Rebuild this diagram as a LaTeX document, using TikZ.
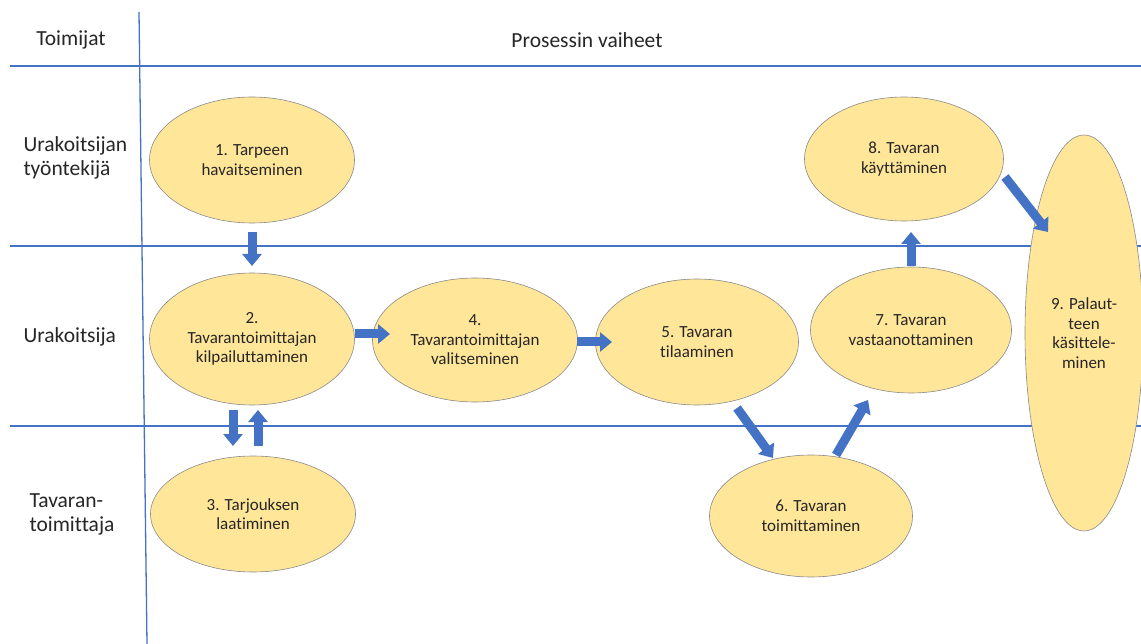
\documentclass[tikz,border=0pt]{standalone}
\usepackage{fontspec}
\setmainfont{Carlito}[Ligatures={NoCommon}]
\usetikzlibrary{shapes.geometric,arrows.meta,calc}
\definecolor{lane}{HTML}{4472C4}
\definecolor{stepfill}{HTML}{FFE699}
\definecolor{stepedge}{HTML}{8A8A8A}
\definecolor{flow}{HTML}{4472C4}
\tikzset{
  stage/.style={ellipse, draw=stepedge, line width=0.6pt, fill=stepfill,
    inner sep=0pt, align=center, font=\fontsize{17}{19.5}\selectfont,
    text=black!85},
  laneline/.style={draw=lane, line width=1.3pt},
  head/.style={font=\fontsize{21.5}{24}\selectfont, text=black!85},
  flowarrow/.style={draw=flow, line width=9pt,
    -{Triangle[length=12pt,width=19pt]}},
}
\begin{document}
\begin{tikzpicture}[x=1pt,y=-1pt]
\useasboundingbox (0,0) rectangle (1141,644);

% swimlane grid
\coordinate (h1a) at (10,66);   \coordinate (h1b) at (1141,66);
\coordinate (h2a) at (10,246);  \coordinate (h2b) at (1141,246);
\coordinate (h3a) at (10,426);  \coordinate (h3b) at (1141,426);
\coordinate (vt) at (139,12);   \coordinate (vb) at (147,644);
\draw[laneline] (h1a) -- (h1b);
\draw[laneline] (h2a) -- (h2b);
\draw[laneline] (h3a) -- (h3b);
\draw[laneline] (vt) -- (vb);

% headings and lane names
\node[head] (hActors) at (71,40) {Toimijat};
\node[head] (hSteps) at (587,40) {Prosessin vaiheet};
\node[head, align=left, anchor=west] (lane1) at (20,158) {Urakoitsijan\\työntekijä};
\node[head, anchor=west] (lane2) at (20,337) {Urakoitsija};
\node[head, align=left, anchor=west] (lane3) at (26,514) {Tavaran-\\toimittaja};

% process steps
\node[stage, minimum width=205pt, minimum height=126pt] (s1) at (252,160) {1. Tarpeen\\havaitseminen};
\node[stage, minimum width=205pt, minimum height=132pt] (s2) at (252,339) {2.\\Tavarantoimittajan\\kilpailuttaminen};
\node[stage, minimum width=205pt, minimum height=116pt] (s3) at (253,514) {3. Tarjouksen\\laatiminen};
\node[stage, minimum width=205pt, minimum height=124pt] (s4) at (475,340) {4.\\Tavarantoimittajan\\valitseminen};
\node[stage, minimum width=203pt, minimum height=126pt] (s5) at (697,342) {5. Tavaran\\tilaaminen};
\node[stage, minimum width=203pt, minimum height=122pt] (s6) at (811,516) {6. Tavaran\\toimittaminen};
\node[stage, minimum width=201pt, minimum height=126pt] (s7) at (911,330) {7. Tavaran\\vastaanottaminen};
\node[stage, minimum width=199pt, minimum height=124pt] (s8) at (904,159) {8. Tavaran\\käyttäminen};
\node[stage, minimum width=118pt, minimum height=396pt] (s9) at (1084,333) {9. Palaut-\\teen\\käsittele-\\minen};

% flow between steps
\draw[flowarrow] ($(s1.center)+(0,72)$) -- ($(s2.center)+(0,-73)$);
\draw[flowarrow] ($(s2.center)+(103,-5)$) -- ($(s4.center)+(-85,-6)$);
\draw[flowarrow] ($(s2.center)+(-19,71)$) -- ($(s3.center)+(-20,-68)$);
\draw[flowarrow] ($(s3.center)+(5,-68)$) -- ($(s2.center)+(6,71)$);
\draw[flowarrow] ($(s4.center)+(102,2)$) -- ($(s5.center)+(-85,0)$);
\draw[flowarrow] ($(s5.center)+(40,66)$) -- ($(s6.center)+(-38,-58)$);
\draw[flowarrow] ($(s6.center)+(25,-61)$) -- ($(s7.center)+(-43,70)$);
\draw[flowarrow] ($(s7.center)+(0,-64)$) -- ($(s8.center)+(7,73)$);
\draw[flowarrow] ($(s8.center)+(101,18)$) -- ($(s9.center)+(-36,-101)$);
\end{tikzpicture}
\end{document}
